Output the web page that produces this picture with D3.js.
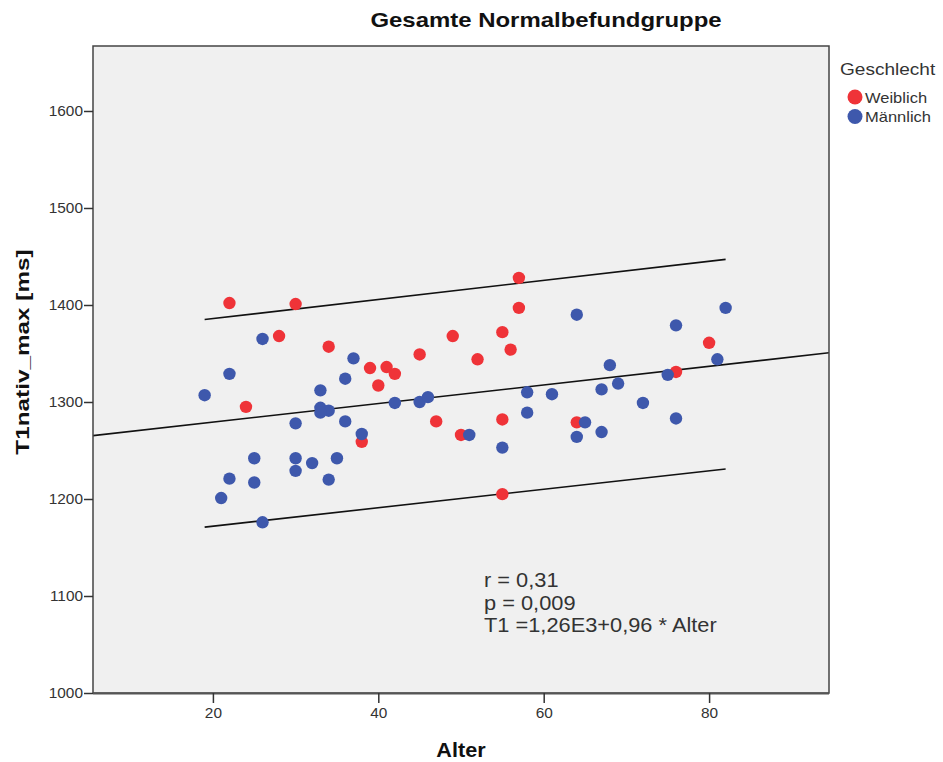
<!DOCTYPE html>
<html>
<head>
<meta charset="utf-8">
<script src="https://cdn.jsdelivr.net/npm/d3@7"></script>
<style>
  body { margin: 0; background: #fff; }
  text { font-family: "Liberation Sans", Arial, sans-serif; }
</style>
</head>
<body>
<svg id="chart" width="943" height="762"></svg>
<script>
// Weiblich (female) points
const femaleAge = [22, 30, 28, 34, 24, 57, 57, 49, 55, 45, 56, 52, 39, 41, 42, 40, 47, 55, 50, 38, 55, 64, 80, 76];
const femaleT1 = [1402, 1401, 1368, 1357, 1295, 1428, 1397, 1368, 1372, 1349, 1354, 1344, 1335, 1336, 1329, 1317, 1280, 1282, 1266, 1259, 1205, 1279, 1361, 1331];

// Männlich (male) points
const maleAge = [26, 22, 19, 33, 33, 34, 33, 30, 25, 30, 32, 35, 30, 22, 25, 34, 21, 26, 36, 36, 37, 42, 45, 46, 38, 51, 55, 58, 61, 58, 64, 64, 65, 67, 68, 67, 69, 72, 75, 76, 76, 81, 82];
const maleT1 = [1365, 1329, 1307, 1312, 1294, 1291, 1289, 1278, 1242, 1242, 1237, 1242, 1229, 1221, 1217, 1220, 1201, 1176, 1324, 1280, 1345, 1299, 1300, 1305, 1267, 1266, 1253, 1310, 1308, 1289, 1390, 1264, 1279, 1269, 1338, 1313, 1319, 1299, 1328, 1379, 1283, 1344, 1397];

// regression line + prediction band
const fitIntercept = 1260;
const fitSlope = 0.96;
const bandAge = [19, 82];
const bandUpper = [1385, 1447];
const bandLower = [1171, 1231];

const xTicks = [20, 40, 60, 80];
const yTicks = [1000, 1100, 1200, 1300, 1400, 1500, 1600];
const statLines = ["r = 0,31", "p = 0,009", "T1 =1,26E3+0,96 * Alter"];
const legendLabels = ["Weiblich", "Männlich"];
const legendColors = ["#ef3338", "#3e58ac"];

const svg = d3.select("#chart");
const plot = { left: 93, top: 46, right: 829, bottom: 693 };

// the original picture is a bit wider than the font, stretch text horizontally
function stretch(sel, k) {
    sel.each(function () {
        let len = this.getComputedTextLength();
        d3.select(this).attr("textLength", len * k).attr("lengthAdjust", "spacingAndGlyphs");
    });
}

const x = d3.scaleLinear().domain([5.5, 94.5]).range([plot.left, plot.right]);
const y = d3.scaleLinear().domain([1000, 1667]).range([plot.bottom, plot.top]);

svg.append("rect")
    .attr("x", plot.left).attr("y", plot.top)
    .attr("width", plot.right - plot.left).attr("height", plot.bottom - plot.top)
    .attr("fill", "#f0f0f0");

svg.append("clipPath").attr("id", "clip")
    .append("rect")
    .attr("x", plot.left).attr("y", plot.top)
    .attr("width", plot.right - plot.left).attr("height", plot.bottom - plot.top);

// lines
let g = svg.append("g").attr("clip-path", "url(#clip)");
let line = d3.line().x(d => x(d[0])).y(d => y(d[1]));
let dom = x.domain();
g.append("path")
    .attr("d", line(dom.map(a => [a, fitIntercept + fitSlope * a])))
    .attr("fill", "none").attr("stroke", "#111").attr("stroke-width", 1.6);
g.append("path")
    .attr("d", line(bandAge.map((a, i) => [a, bandUpper[i]])))
    .attr("fill", "none").attr("stroke", "#111").attr("stroke-width", 1.6);
g.append("path")
    .attr("d", line(bandAge.map((a, i) => [a, bandLower[i]])))
    .attr("fill", "none").attr("stroke", "#111").attr("stroke-width", 1.6);

// points
g.selectAll("circle.f").data(femaleAge).join("circle")
    .attr("class", "f")
    .attr("cx", d => x(d))
    .attr("cy", (d, i) => y(femaleT1[i]))
    .attr("r", 6.2)
    .attr("fill", legendColors[0]);
g.selectAll("circle.m").data(maleAge).join("circle")
    .attr("class", "m")
    .attr("cx", d => x(d))
    .attr("cy", (d, i) => y(maleT1[i]))
    .attr("r", 6.2)
    .attr("fill", legendColors[1]);

// frame
svg.append("rect")
    .attr("x", plot.left).attr("y", plot.top)
    .attr("width", plot.right - plot.left).attr("height", plot.bottom - plot.top)
    .attr("fill", "none").attr("stroke", "#444").attr("stroke-width", 1.5);
svg.append("line")
    .attr("x1", plot.left).attr("x2", plot.right)
    .attr("y1", plot.bottom + 0.5).attr("y2", plot.bottom + 0.5)
    .attr("stroke", "#555").attr("stroke-width", 2);

// axes
let xAxis = svg.append("g")
    .attr("transform", `translate(0,${plot.bottom})`)
    .call(d3.axisBottom(x).tickValues(xTicks).tickFormat(d3.format("d")).tickSize(10).tickPadding(5));
let yAxis = svg.append("g")
    .attr("transform", `translate(${plot.left},0)`)
    .call(d3.axisLeft(y).tickValues(yTicks).tickFormat(d3.format("d")).tickSize(9).tickPadding(1));
for (let ax of [xAxis, yAxis]) {
    ax.select(".domain").remove();
    ax.selectAll(".tick line").attr("stroke", "#333").attr("stroke-width", 1.5);
    ax.selectAll(".tick text")
        .attr("fill", "#333")
        .style("font-size", "14px")
        .style("font-family", "'Liberation Sans', Arial, sans-serif");
    stretch(ax.selectAll(".tick text"), 1.1);
}

// titles
let title = svg.append("text")
    .attr("x", 546).attr("y", 27)
    .attr("text-anchor", "middle")
    .style("font-size", "21px").style("font-weight", "bold")
    .attr("fill", "#111")
    .text("Gesamte Normalbefundgruppe");
stretch(title, 1.14);
let xTitle = svg.append("text")
    .attr("x", (plot.left + plot.right) / 2).attr("y", 757)
    .attr("text-anchor", "middle")
    .style("font-size", "20px").style("font-weight", "bold")
    .attr("fill", "#111")
    .text("Alter");
stretch(xTitle, 1.08);
let yTitle = svg.append("text")
    .attr("transform", `translate(29,352) rotate(-90)`)
    .attr("text-anchor", "middle")
    .style("font-size", "18px").style("font-weight", "bold")
    .attr("fill", "#111")
    .text("T1nativ_max [ms]");
stretch(yTitle, 1.35);

// stats annotation
let stats = svg.append("g").selectAll("text").data(statLines).join("text")
    .attr("x", 484)
    .attr("y", (d, i) => 587 + i * 22.5)
    .style("font-size", "20px")
    .attr("fill", "#333")
    .text(d => d);
stretch(stats, 1.09);

// legend
let legTitle = svg.append("text")
    .attr("x", 840).attr("y", 75)
    .style("font-size", "17px")
    .attr("fill", "#333")
    .text("Geschlecht");
stretch(legTitle, 1.12);
let leg = svg.append("g").selectAll("g").data(legendLabels).join("g")
    .attr("transform", (d, i) => `translate(855,${97 + i * 19.5})`);
leg.append("circle").attr("r", 7.5).attr("fill", (d, i) => legendColors[i]);
let legText = leg.append("text")
    .attr("x", 10).attr("y", 5.5)
    .style("font-size", "15px")
    .attr("fill", "#333")
    .text(d => d);
stretch(legText, 1.1);
</script>
</body>
</html>
